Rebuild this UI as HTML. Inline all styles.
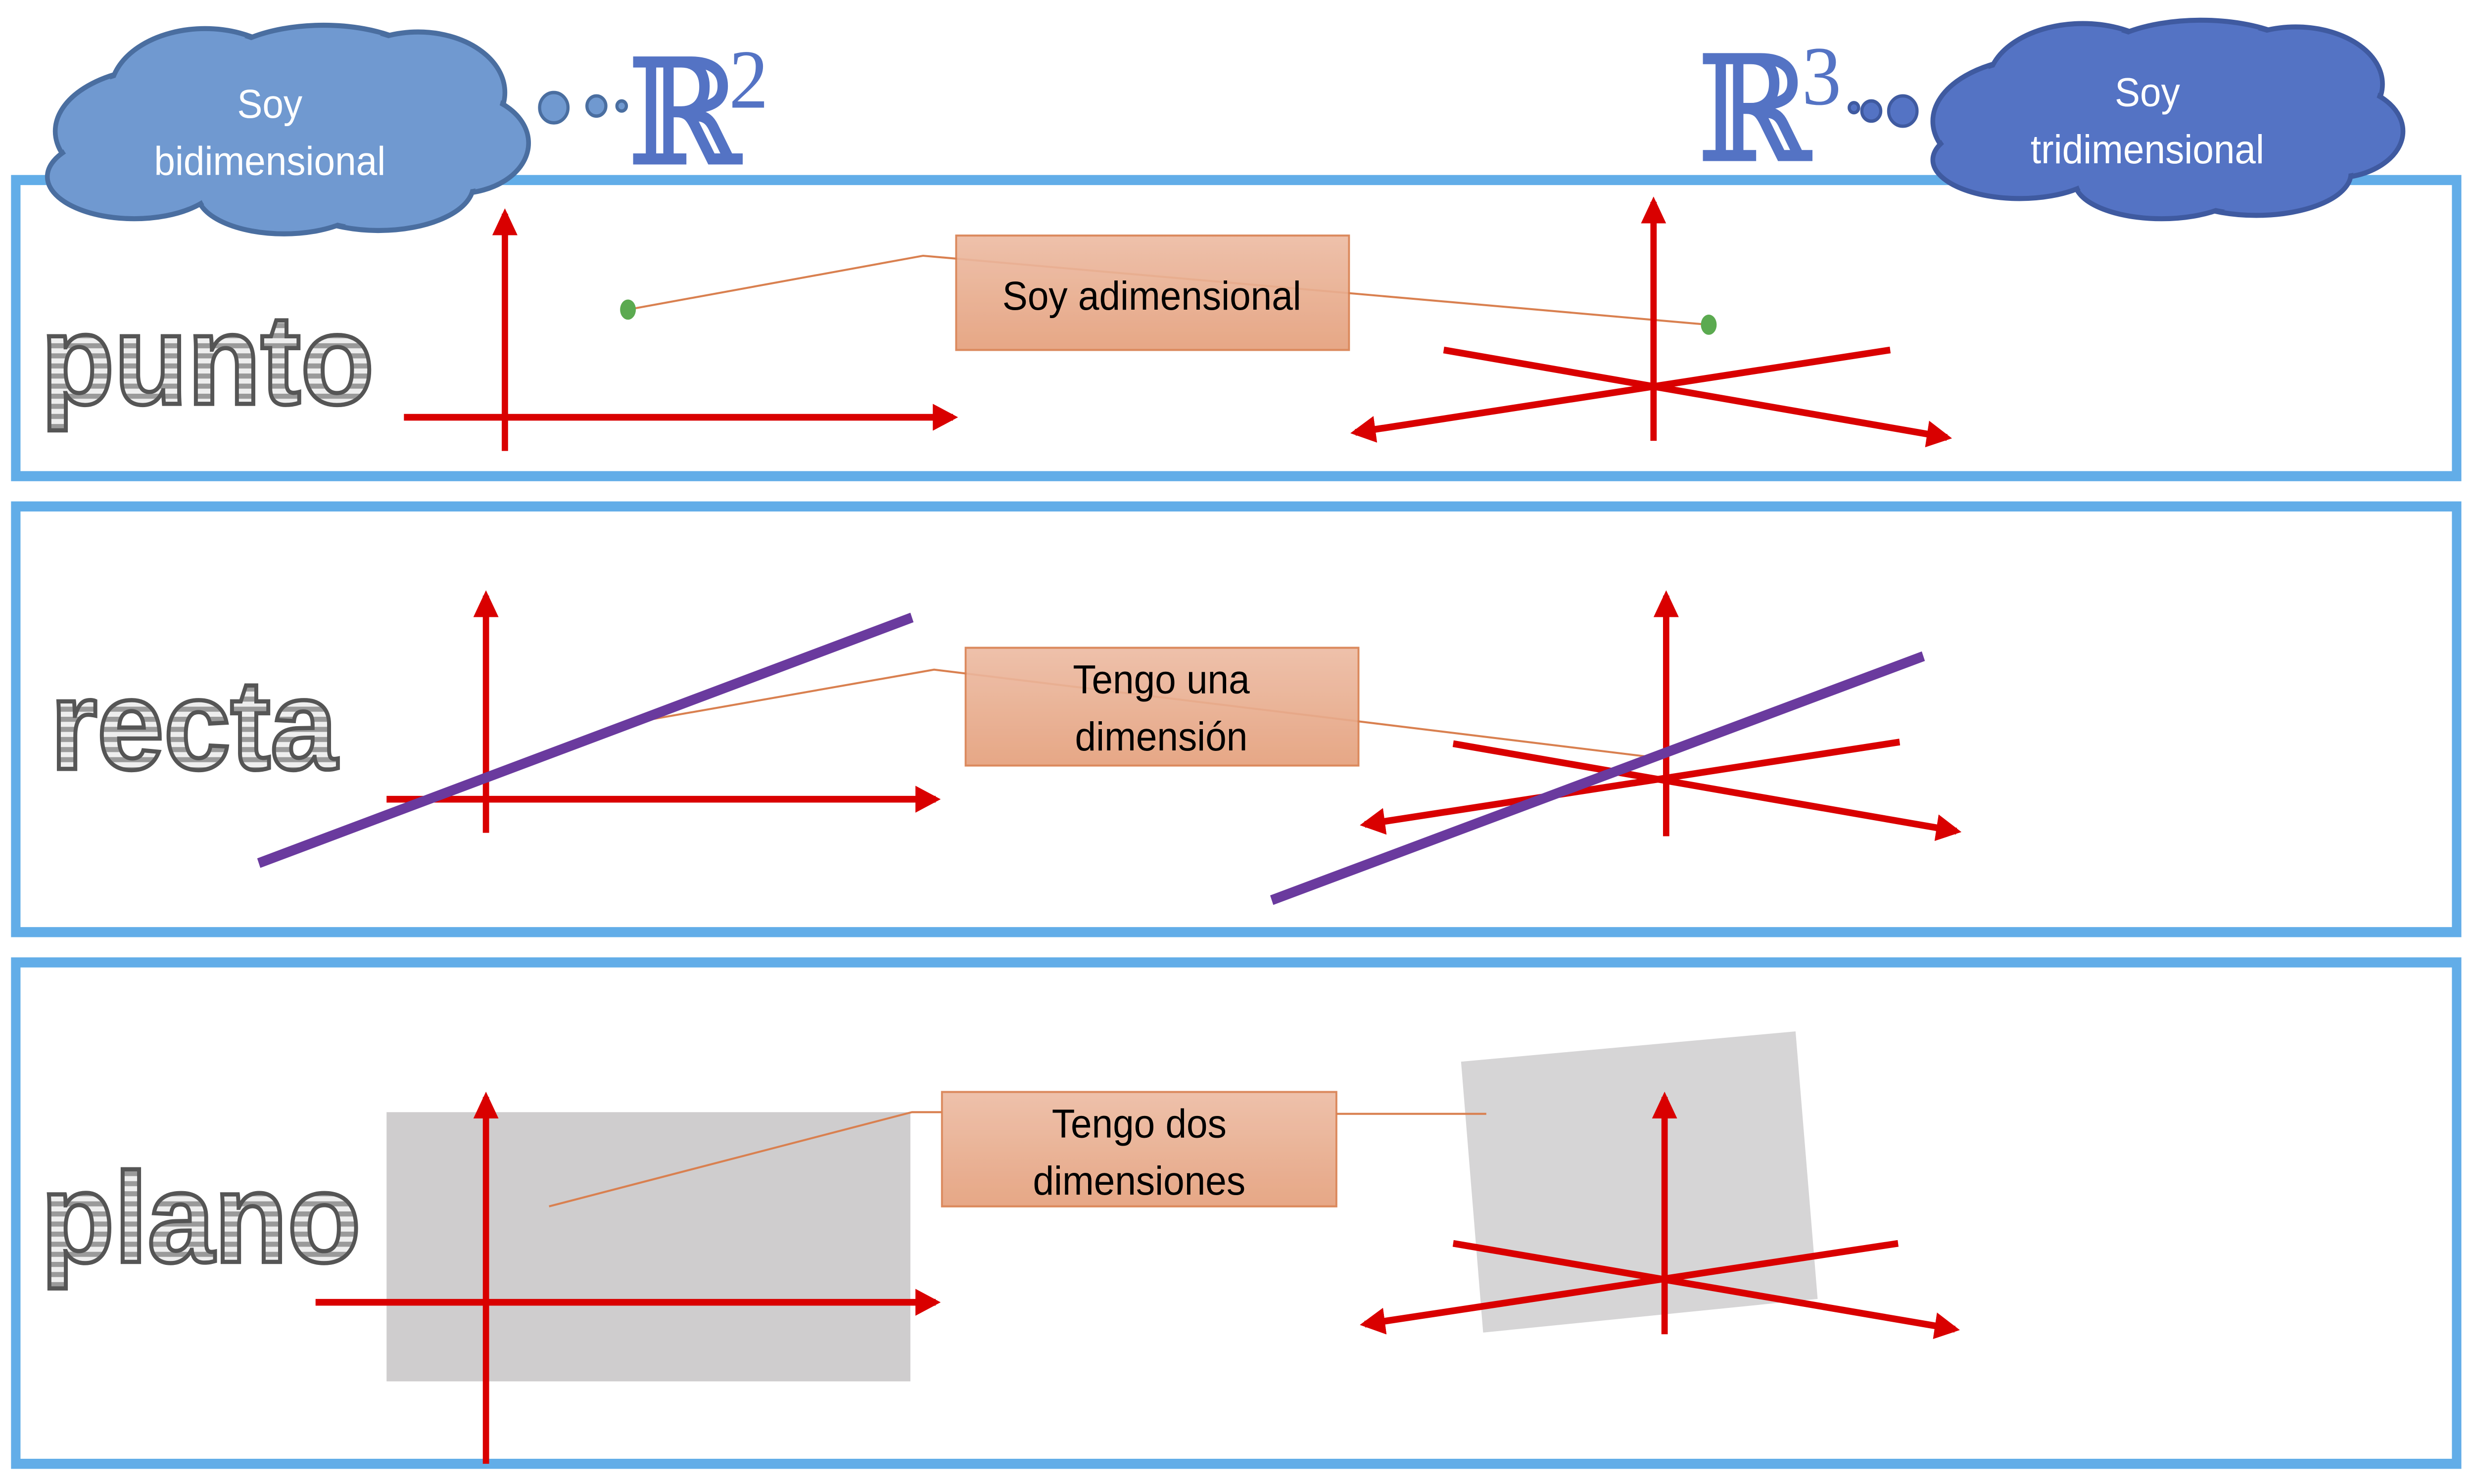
<!DOCTYPE html>
<html><head><meta charset="utf-8"><style>html,body{margin:0;padding:0;background:#fff;overflow:hidden}svg{display:block;width:100vw;height:100vh}</style></head>
<body>
<svg viewBox="0 0 1568 882" preserveAspectRatio="none" xmlns="http://www.w3.org/2000/svg" font-family="'Liberation Sans', sans-serif">
<defs>
<marker id="ar" viewBox="0 0 10 10" refX="8" refY="5" markerWidth="4" markerHeight="4" orient="auto-start-reverse" markerUnits="strokeWidth"><path d="M0,0 L10,5 L0,10 z" fill="#D90000"/></marker>
<pattern id="st" width="6" height="6" patternUnits="userSpaceOnUse"><rect width="6" height="6" fill="#eee"/><rect width="6" height="3" fill="#9a9a9a"/></pattern>
<linearGradient id="bx" x1="0" y1="0" x2="0" y2="1"><stop offset="0" stop-color="#EDBCA4"/><stop offset="1" stop-color="#E5A07C"/></linearGradient>
</defs>
<g fill="none" stroke="#62ADE8" stroke-width="6">
<rect x="10" y="107" width="1547" height="176"/>
<rect x="10" y="301" width="1547" height="253"/>
<rect x="10" y="572" width="1547" height="298"/>
</g>
<!-- cloud 1 -->
<g stroke="#4A6EA0" stroke-width="3" fill="#7099D0">
<ellipse cx="105" cy="78" rx="70" ry="38"/><ellipse cx="130" cy="55" rx="60" ry="38"/><ellipse cx="205" cy="45" rx="70" ry="30"/><ellipse cx="265" cy="55" rx="55" ry="36"/><ellipse cx="290" cy="85" rx="45" ry="30"/><ellipse cx="240" cy="110" rx="60" ry="27"/><ellipse cx="180" cy="115" rx="55" ry="24"/><ellipse cx="85" cy="105" rx="55" ry="25"/></g>
<g fill="#7099D0"><ellipse cx="105" cy="78" rx="68" ry="36"/><ellipse cx="130" cy="55" rx="58" ry="36"/><ellipse cx="205" cy="45" rx="68" ry="28"/><ellipse cx="265" cy="55" rx="53" ry="34"/><ellipse cx="290" cy="85" rx="43" ry="28"/><ellipse cx="240" cy="110" rx="58" ry="25"/><ellipse cx="180" cy="115" rx="53" ry="22"/><ellipse cx="85" cy="105" rx="53" ry="23"/><ellipse cx="185" cy="80" rx="120" ry="40"/></g>
<g fill="#7099D0" stroke="#4A6EA0" stroke-width="2"><circle cx="351" cy="64" r="9"/><circle cx="378" cy="63" r="6"/><circle cx="394" cy="63" r="3"/></g>
<text x="171" y="70" font-size="24" fill="#fff" text-anchor="middle">Soy</text>
<text x="171" y="104" font-size="24" fill="#fff" text-anchor="middle">bidimensional</text>
<!-- cloud 2 -->
<g stroke="#3F5AA0" stroke-width="3" fill="#5473C4">
<ellipse cx="1295" cy="72" rx="70" ry="38"/><ellipse cx="1320" cy="50" rx="60" ry="36"/><ellipse cx="1395" cy="40" rx="70" ry="28"/><ellipse cx="1455" cy="50" rx="55" ry="34"/><ellipse cx="1478" cy="78" rx="45" ry="28"/><ellipse cx="1430" cy="103" rx="60" ry="25"/><ellipse cx="1370" cy="108" rx="55" ry="22"/><ellipse cx="1280" cy="95" rx="55" ry="23"/></g>
<g fill="#5473C4"><ellipse cx="1295" cy="72" rx="68" ry="36"/><ellipse cx="1320" cy="50" rx="58" ry="34"/><ellipse cx="1395" cy="40" rx="68" ry="26"/><ellipse cx="1455" cy="50" rx="53" ry="32"/><ellipse cx="1478" cy="78" rx="43" ry="26"/><ellipse cx="1430" cy="103" rx="58" ry="23"/><ellipse cx="1370" cy="108" rx="53" ry="20"/><ellipse cx="1280" cy="95" rx="53" ry="21"/><ellipse cx="1375" cy="75" rx="120" ry="38"/></g>
<g fill="#5473C4" stroke="#3F5AA0" stroke-width="2"><circle cx="1206" cy="66" r="9"/><circle cx="1186" cy="66" r="6"/><circle cx="1175" cy="64" r="3"/></g>
<text x="1361" y="63" font-size="24" fill="#fff" text-anchor="middle">Soy</text>
<text x="1361" y="97" font-size="24" fill="#fff" text-anchor="middle">tridimensional</text>
<!-- R symbols -->
<text x="398" y="97" font-size="86" fill="#5473C4" stroke="#5473C4" stroke-width="1.5" font-family="'DejaVu Serif', serif">ℝ</text>
<text x="462" y="64" font-size="50" fill="#5473C4" font-family="'Liberation Serif', serif">2</text>
<text x="1076" y="95" font-size="86" fill="#5473C4" stroke="#5473C4" stroke-width="1.5" font-family="'DejaVu Serif', serif">ℝ</text>
<text x="1142" y="62" font-size="50" fill="#5473C4" font-family="'Liberation Serif', serif">3</text>
<!-- words -->
<g font-size="76" font-weight="bold" fill="url(#st)" stroke="#555" stroke-width="2.5">
<text x="26" y="240">punto</text>
<text x="32" y="457">recta</text>
<text x="26" y="750">plano</text>
</g>
<!-- panel 1 -->
<g stroke="#D98050" stroke-width="1.2" fill="none"><polyline points="398,184 585,152 1083,193"/></g>
<rect x="606" y="140" width="249" height="68" fill="url(#bx)" stroke="#D98050" stroke-width="1.2" opacity="0.92"/>
<text x="730" y="184" font-size="24" text-anchor="middle">Soy adimensional</text>
<ellipse cx="398" cy="184" rx="5" ry="6" fill="#5BAA50"/>
<ellipse cx="1083" cy="193" rx="5" ry="6" fill="#5BAA50"/>
<g stroke="#D90000" stroke-width="4" fill="none">
<line x1="320" y1="268" x2="320" y2="127" marker-end="url(#ar)"/>
<line x1="256" y1="248" x2="604" y2="248" marker-end="url(#ar)"/>
<line x1="1048" y1="262" x2="1048" y2="120" marker-end="url(#ar)"/>
<line x1="915" y1="208" x2="1234" y2="260" marker-end="url(#ar)"/>
<line x1="1198" y1="208" x2="859" y2="257" marker-end="url(#ar)"/>
</g>
<!-- panel 2 -->
<g stroke="#D98050" stroke-width="1.2" fill="none"><polyline points="410,428 592,398 1047,450"/></g>
<rect x="612" y="385" width="249" height="70" fill="url(#bx)" stroke="#D98050" stroke-width="1.2" opacity="0.92"/>
<text x="736" y="412" font-size="24" text-anchor="middle">Tengo una</text>
<text x="736" y="446" font-size="24" text-anchor="middle">dimensión</text>
<g stroke="#D90000" stroke-width="4" fill="none">
<line x1="308" y1="495" x2="308" y2="354" marker-end="url(#ar)"/>
<line x1="245" y1="475" x2="593" y2="475" marker-end="url(#ar)"/>
<line x1="1056" y1="497" x2="1056" y2="354" marker-end="url(#ar)"/>
<line x1="921" y1="442" x2="1240" y2="494" marker-end="url(#ar)"/>
<line x1="1204" y1="441" x2="865" y2="490" marker-end="url(#ar)"/>
</g>
<g stroke="#6A3A9E" stroke-width="6"><line x1="164" y1="513" x2="578" y2="367"/><line x1="806" y1="535" x2="1219" y2="390"/></g>
<!-- panel 3 -->
<rect x="245" y="661" width="332" height="160" fill="#CFCDCE"/>
<polygon points="926,631 1138,613 1152,772 940,792" fill="#D6D5D6"/>
<g stroke="#D98050" stroke-width="1.2" fill="none"><polyline points="348,717 578,661 597,661"/><line x1="847" y1="662" x2="942" y2="662"/></g>
<rect x="597" y="649" width="250" height="68" fill="url(#bx)" stroke="#D98050" stroke-width="1.2" opacity="0.92"/>
<text x="722" y="676" font-size="24" text-anchor="middle">Tengo dos</text>
<text x="722" y="710" font-size="24" text-anchor="middle">dimensiones</text>
<g stroke="#D90000" stroke-width="4" fill="none">
<line x1="308" y1="870" x2="308" y2="652" marker-end="url(#ar)"/>
<line x1="200" y1="774" x2="593" y2="774" marker-end="url(#ar)"/>
<line x1="1055" y1="793" x2="1055" y2="652" marker-end="url(#ar)"/>
<line x1="921" y1="739" x2="1239" y2="790" marker-end="url(#ar)"/>
<line x1="1203" y1="739" x2="865" y2="787" marker-end="url(#ar)"/>
</g>
</svg>
</body></html>
